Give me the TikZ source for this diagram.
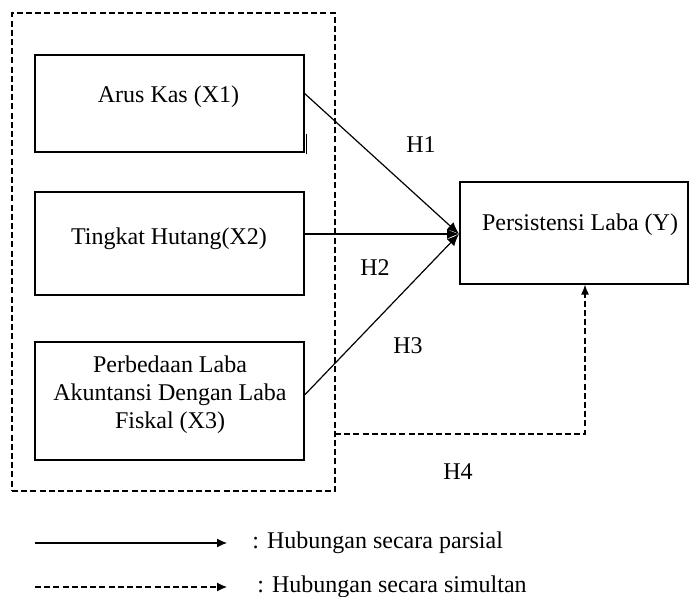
\documentclass[tikz,border=0pt]{standalone}
\usepackage{fontspec}
\setmainfont{Liberation Serif}
\usetikzlibrary{arrows.meta}
\begin{document}
\begin{tikzpicture}[x=0.5pt,y=-0.5pt,
  box/.style={draw,line width=0.6pt,minimum width=134.5pt,inner sep=0pt},
  group/.style={draw,dashed,dash pattern=on 3pt off 1.6pt,line width=0.55pt,inner sep=0pt},
  txt/.style={font=\fontsize{12}{14}\selectfont,align=center,inner sep=0pt},
  conn/.style={line width=0.6pt,-{Latex[length=6pt,width=5pt]}},
  dconn/.style={line width=0.6pt,dash pattern=on 3pt off 1.6pt,-{Latex[length=5pt,width=4pt]}},
  lconn/.style={line width=0.6pt,-{Latex[length=5pt,width=4.5pt]}},
  ldconn/.style={line width=0.6pt,dash pattern=on 3pt off 1.6pt,-{Latex[length=5pt,width=4.5pt]}}]
\useasboundingbox (0,0) rectangle (690,597);
\fill[white] (0,0) rectangle (690,597);
% group
\node[group,minimum width=161.5pt,minimum height=239pt] (grp) at (173.5,252) {};
% boxes
\node[box,minimum height=48.5pt] (x1) at (169.5,103.5) {};
\node[box,minimum height=51.5pt] (x2) at (169.5,243.5) {};
\node[box,minimum height=59pt] (x3) at (169.5,401) {};
\node[box,minimum width=114pt,minimum height=51pt] (y) at (574,233) {};
% texts
\node[txt] (x1t) at (168.5,97) {Arus Kas (X1)};
\node[txt] (x2t) at (169,239) {Tingkat Hutang(X2)};
\node[txt] (x3t) at (170,395) {Perbedaan Laba\\Akuntansi Dengan Laba\\Fiskal (X3)};
\node[txt] (yt) at (580,225) {Persistensi Laba (Y)};
% stray tick
\draw[line width=0.6pt] ([xshift=1pt,yshift=9.5pt]x1.south east) -- ([xshift=1pt,yshift=-0.5pt]x1.south east);
% connectors
\coordinate (tip) at (459,234);
\draw[conn] ([yshift=5pt]x1.east) -- (tip);
\draw[conn] (x2.east |- tip) -- (tip);
\draw[conn] ([yshift=3pt]x3.east) -- (tip);
\coordinate (h4a) at (335,434);
\coordinate (h4t) at ([xshift=5.5pt]y.south);
\draw[dconn] (h4a) -| (h4t);
% labels
\node[txt] (h1) at (421,145) {H1};
\node[txt] (h2) at (375,268) {H2};
\node[txt] (h3) at (408,346) {H3};
\node[txt] (h4) at (458,472) {H4};
% legend
\coordinate (l1a) at (35,543);
\coordinate (l1b) at (227,543);
\coordinate (l2a) at (35,587);
\coordinate (l2b) at (227,587);
\draw[lconn] (l1a) -- (l1b);
\draw[ldconn] (l2a) -- (l2b);
\node[txt,anchor=west] (lt1) at (252,543) {: Hubungan secara parsial};
\node[txt,anchor=west] (lt2) at (257,587) {: Hubungan secara simultan};
\end{tikzpicture}
\end{document}
